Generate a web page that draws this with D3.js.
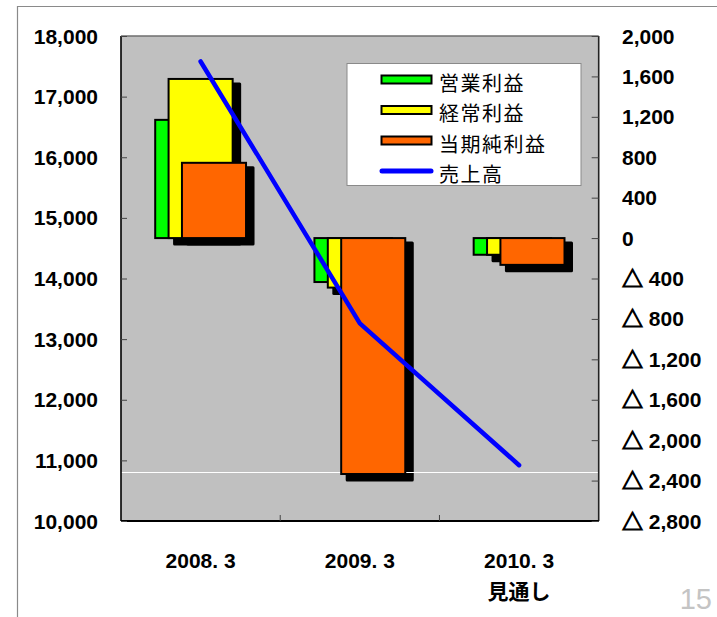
<!DOCTYPE html>
<html>
<head>
<meta charset="utf-8">
<script src="https://cdn.jsdelivr.net/npm/d3@7"></script>
<style>
  html, body { margin: 0; padding: 0; background: #fff; }
  svg { display: block; }
</style>
</head>
<body>
<script>
// 決算期
const categories = ["2008. 3", "2009. 3", "2010. 3"];
const subLabels = ["", "", "見通し"];

// 利益（右軸, 億円）
const operatingIncome = [1170, -435, -165];   // 営業利益
const ordinaryIncome = [1575, -490, -165];    // 経常利益
const netIncome = [745, -2335, -265];         // 当期純利益

// 売上高（左軸, 億円）
const sales = [17580, 13260, 10920];

// 軸目盛
const leftTicks = [10000, 11000, 12000, 13000, 14000, 15000, 16000, 17000, 18000];
const rightTicks = [-2800, -2400, -2000, -1600, -1200, -800, -400, 0, 400, 800, 1200, 1600, 2000];

// 参考線（左軸）
const referenceLines = [10800];

const seriesNames = ["営業利益", "経常利益", "当期純利益", "売上高"];

const W = 717, H = 617;
const plot = { left: 121, right: 598.7, top: 36, bottom: 521 };

const svg = d3.select("body").append("svg")
  .attr("width", W).attr("height", H);

svg.append("rect").attr("width", W).attr("height", H).attr("fill", "#fff");

// ページ枠
svg.append("path")
  .attr("d", `M17.5,${H} V6.5 H${W}`)
  .attr("fill", "none").attr("stroke", "#8a8a8a").attr("stroke-width", 1.2);

const x = d3.scaleBand().domain(categories).range([plot.left, plot.right]).padding(0);
const yL = d3.scaleLinear().domain([10000, 18000]).range([plot.bottom, plot.top]);
const yR = d3.scaleLinear().domain([-2800, 2000]).range([plot.bottom, plot.top]);

// プロットエリア
svg.append("rect")
  .attr("x", plot.left).attr("y", plot.top)
  .attr("width", plot.right - plot.left).attr("height", plot.bottom - plot.top)
  .attr("fill", "#c0c0c0");

const band = x.bandwidth();
const barW = band * 0.415;
const step = band * 0.084;
const series = [
  { values: operatingIncome, color: "#00ff00", shadow: false },
  { values: ordinaryIncome, color: "#ffff00", shadow: true },
  { values: netIncome, color: "#ff6600", shadow: true }
];

function barRect(s, i, v) {
  const c = x(categories[i]) + band / 2;
  const left = c - (barW + 2 * step) / 2 + s * step;
  const y0 = yR(0), y1 = yR(v);
  return { x: left + 1, y: Math.min(y0, y1), w: barW - 2, h: Math.abs(y1 - y0) };
}

const gShadow = svg.append("g");
const gRef = svg.append("g");
const gBars = svg.append("g");

series.forEach((s, si) => {
  s.values.forEach((v, i) => {
    const r = barRect(si, i, v);
    if (s.shadow) {
      gShadow.append("rect")
        .attr("x", r.x + 4.5).attr("y", r.y + 3.5)
        .attr("width", r.w + 4).attr("height", r.h + 4)
        .attr("rx", 1.5)
        .attr("fill", "#000");
    }
  });
});

// 参考線
referenceLines.forEach(v => {
  gRef.append("line")
    .attr("x1", plot.left).attr("x2", plot.right)
    .attr("y1", yL(v)).attr("y2", yL(v))
    .attr("stroke", "#fff").attr("stroke-width", 1.2);
});

series.forEach((s, si) => {
  s.values.forEach((v, i) => {
    const r = barRect(si, i, v);
    gBars.append("rect")
      .attr("x", r.x).attr("y", r.y)
      .attr("width", r.w).attr("height", r.h)
      .attr("fill", s.color)
      .attr("stroke", "#000").attr("stroke-width", 2);
  });
});

// 売上高の折れ線
const line = d3.line()
  .x((d, i) => x(categories[i]) + band / 2)
  .y(d => yL(d));
svg.append("path")
  .datum(sales)
  .attr("d", line)
  .attr("fill", "none")
  .attr("stroke", "#0000ff")
  .attr("stroke-width", 4.5)
  .attr("stroke-linecap", "round")
  .attr("stroke-linejoin", "round");

// 枠線
svg.append("line").attr("x1", plot.left).attr("x2", plot.right)
  .attr("y1", plot.top).attr("y2", plot.top)
  .attr("stroke", "#6e6e6e").attr("stroke-width", 1.5);
svg.append("line").attr("x1", plot.left).attr("x2", plot.left)
  .attr("y1", plot.top).attr("y2", plot.bottom)
  .attr("stroke", "#000").attr("stroke-width", 1.6);
svg.append("line").attr("x1", plot.right).attr("x2", plot.right)
  .attr("y1", plot.top).attr("y2", plot.bottom)
  .attr("stroke", "#222").attr("stroke-width", 1.6);
svg.append("line").attr("x1", plot.left).attr("x2", plot.right)
  .attr("y1", plot.bottom).attr("y2", plot.bottom)
  .attr("stroke", "#000").attr("stroke-width", 2);

const fmt = d3.format(",");
const axisFont = "'Liberation Sans', Arial, sans-serif";

// 左軸
const leftAxis = svg.append("g")
  .attr("transform", `translate(${plot.left},0)`)
  .call(d3.axisRight(yL).tickValues(leftTicks).tickSize(6).tickFormat(""));
leftAxis.select(".domain").remove();
leftAxis.selectAll(".tick line").attr("stroke", "#444");

svg.append("g").selectAll("text")
  .data(leftTicks).join("text")
  .attr("x", 98).attr("y", d => yL(d))
  .attr("dy", "0.36em")
  .attr("text-anchor", "end")
  .attr("font-family", axisFont).attr("font-weight", "bold").attr("font-size", 21)
  .attr("fill", "#000")
  .text(d => fmt(d));

// 右軸
const rightAxis = svg.append("g")
  .attr("transform", `translate(${plot.right},0)`)
  .call(d3.axisLeft(yR).tickValues(rightTicks).tickSize(7).tickFormat(""));
rightAxis.select(".domain").remove();
rightAxis.selectAll(".tick line").attr("stroke", "#444");

const rLabels = svg.append("g").selectAll("text")
  .data(rightTicks).join("text")
  .attr("x", 622).attr("y", d => yR(d))
  .attr("dy", "0.36em")
  .attr("font-family", axisFont).attr("font-weight", "bold").attr("font-size", 21)
  .attr("fill", "#000");
rLabels.each(function (d) {
  const t = d3.select(this);
  if (d < 0) {
    t.append("tspan")
      .attr("font-family", "'Noto Sans CJK JP', sans-serif")
      .attr("stroke", "#000").attr("stroke-width", 1.1)
      .text("△");
    t.append("tspan").text(" " + fmt(-d));
  } else {
    t.text(fmt(d));
  }
});

// X軸
const xAxis = svg.append("g")
  .attr("transform", `translate(0,${plot.bottom})`)
  .call(d3.axisTop(x).tickSize(0).tickFormat(""));
xAxis.select(".domain").remove();
svg.append("g").selectAll("line")
  .data(categories.slice(1)).join("line")
  .attr("x1", d => x(d)).attr("x2", d => x(d))
  .attr("y1", plot.bottom).attr("y2", plot.bottom - 6)
  .attr("stroke", "#444");

svg.append("g").selectAll("text")
  .data(categories).join("text")
  .attr("x", d => x(d) + band / 2).attr("y", 568)
  .attr("text-anchor", "middle")
  .attr("font-family", axisFont).attr("font-weight", "bold").attr("font-size", 21)
  .text(d => d);
svg.append("g").selectAll("text")
  .data(subLabels).join("text")
  .attr("x", (d, i) => x(categories[i]) + band / 2).attr("y", 599)
  .attr("text-anchor", "middle")
  .attr("font-family", "'Noto Sans CJK JP', sans-serif").attr("font-weight", "bold").attr("font-size", 21)
  .text(d => d);

// 凡例
const legend = svg.append("g");
legend.append("rect")
  .attr("x", 347).attr("y", 63.5).attr("width", 234).attr("height", 122)
  .attr("fill", "#fff").attr("stroke", "#8a8a8a").attr("stroke-width", 1);
const rowY = [79.5, 110, 140.5, 171];
seriesNames.forEach((name, i) => {
  if (i < 3) {
    legend.append("rect")
      .attr("x", 381.5).attr("y", rowY[i] - 4).attr("width", 50).attr("height", 8)
      .attr("fill", series[i].color).attr("stroke", "#000").attr("stroke-width", 2);
  } else {
    legend.append("line")
      .attr("x1", 382).attr("x2", 431).attr("y1", rowY[i]).attr("y2", rowY[i])
      .attr("stroke", "#0000ff").attr("stroke-width", 5).attr("stroke-linecap", "round");
  }
  legend.append("text")
    .attr("x", 439).attr("y", rowY[i] + 11)
    .attr("font-family", "'Noto Sans CJK JP', sans-serif").attr("font-size", 20)
    .attr("letter-spacing", 1.5)
    .attr("fill", "#000")
    .text(name);
});

// ページ番号
svg.append("text")
  .attr("x", 712).attr("y", 609).attr("text-anchor", "end")
  .attr("font-family", axisFont).attr("font-size", 29)
  .attr("fill", "#c4c4c4")
  .text("15");
</script>
</body>
</html>
